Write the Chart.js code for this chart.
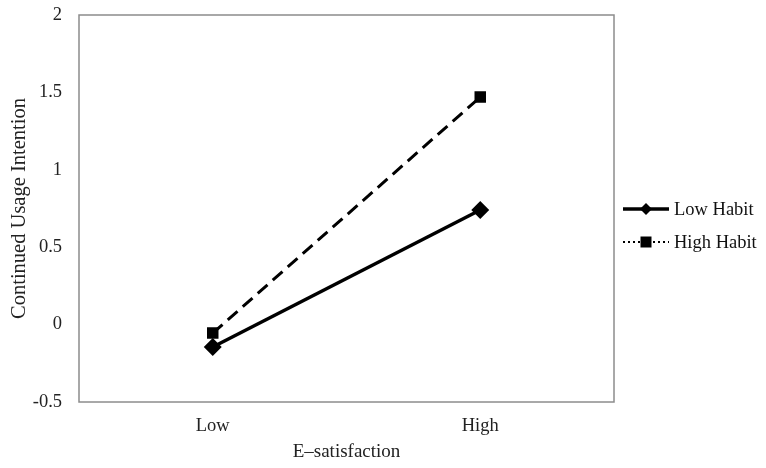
<!DOCTYPE html>
<html>
<head>
<meta charset="utf-8">
<script src="https://cdn.jsdelivr.net/npm/chart.js@4"></script>
<style>
  html, body { margin: 0; padding: 0; background: #fff; }
  #wrap { width: 766px; height: 468px; }
</style>
</head>
<body>
<div id="wrap"><canvas id="chart" width="766" height="468"></canvas></div>
<script>
// values
var categories = ['Low', 'High'];
var lowHabit = [-0.145, 0.74];
var highHabit = [-0.055, 1.47];
var seriesNames = ['Low Habit', 'High Habit'];
var yTickLabels = { '-0.5': '-0.5', '0': '0', '0.5': '0.5', '1': '1', '1.5': '1.5', '2': '2' };

var serif = "'Liberation Serif', 'DejaVu Serif', serif";

// box round the plot area plus a legend drawn with line samples and markers
var frameAndLegend = {
  id: 'frameAndLegend',
  afterDatasetsDraw: function (chart) {
    var ctx = chart.ctx, a = chart.chartArea;
    ctx.save();
    ctx.strokeStyle = '#8c8c8c';
    ctx.lineWidth = 1.5;
    ctx.strokeRect(a.left, a.top, a.right - a.left, a.bottom - a.top);

    var x0 = 623, y0 = 209, gap = 33;
    chart.data.datasets.forEach(function (ds, i) {
      var y = y0 + i * gap;
      ctx.strokeStyle = '#000';
      ctx.lineWidth = i === 0 ? 3.5 : 2;
      ctx.setLineDash(i === 0 ? [] : [2, 3]);
      ctx.beginPath();
      ctx.moveTo(x0, y);
      ctx.lineTo(x0 + 46, y);
      ctx.stroke();
      ctx.setLineDash([]);
      ctx.fillStyle = '#000';
      ctx.beginPath();
      if (i === 0) {
        ctx.moveTo(x0 + 23, y - 6); ctx.lineTo(x0 + 29, y);
        ctx.lineTo(x0 + 23, y + 6); ctx.lineTo(x0 + 17, y);
      } else {
        ctx.rect(x0 + 17.5, y - 5.5, 11, 11);
      }
      ctx.fill();
      ctx.font = '18.5px ' + serif;
      ctx.fillStyle = '#111';
      ctx.textBaseline = 'middle';
      ctx.fillText(ds.label, x0 + 51, y + 1);
    });
    ctx.restore();
  }
};

new Chart(document.getElementById('chart'), {
  type: 'line',
  data: {
    labels: categories,
    datasets: [
      {
        label: seriesNames[0], data: lowHabit,
        borderColor: '#000', backgroundColor: '#000', borderWidth: 3.5,
        pointStyle: 'rectRot', pointRadius: 6.5, pointHoverRadius: 6.5
      },
      {
        label: seriesNames[1], data: highHabit,
        borderColor: '#000', backgroundColor: '#000', borderWidth: 3,
        borderDash: [13, 7],
        pointStyle: 'rect', pointRadius: 6, pointHoverRadius: 6
      }
    ]
  },
  options: {
    responsive: false,
    animation: false,
    layout: { padding: { top: 15, right: 152, bottom: 0, left: 0 } },
    plugins: { legend: { display: false }, tooltip: { enabled: false } },
    scales: {
      x: {
        offset: true,
        afterFit: function (s) { s.height = 66; s.paddingLeft = 0; s.paddingRight = 0; },
        grid: { display: false, drawTicks: false },
        border: { display: false },
        ticks: { color: '#222', font: { family: serif, size: 18.5 }, padding: 13 },
        title: { display: true, text: 'E\u2013satisfaction', color: '#222',
                 font: { family: serif, size: 19 }, padding: { top: 0, bottom: 5 } }
      },
      y: {
        min: -0.5, max: 2,
        afterFit: function (s) { s.width = 79; s.paddingTop = 0; s.paddingBottom = 0; },
        grid: { display: false, drawTicks: false },
        border: { display: false },
        ticks: {
          stepSize: 0.5, color: '#222', font: { family: serif, size: 18.5 }, padding: 17,
          callback: function (v) { return yTickLabels[String(v)]; }
        },
        title: { display: true, text: 'Continued Usage Intention', color: '#222',
                 font: { family: serif, size: 20.5 }, padding: { top: 7, bottom: 0 } }
      }
    }
  },
  plugins: [frameAndLegend]
});
</script>
</body>
</html>
